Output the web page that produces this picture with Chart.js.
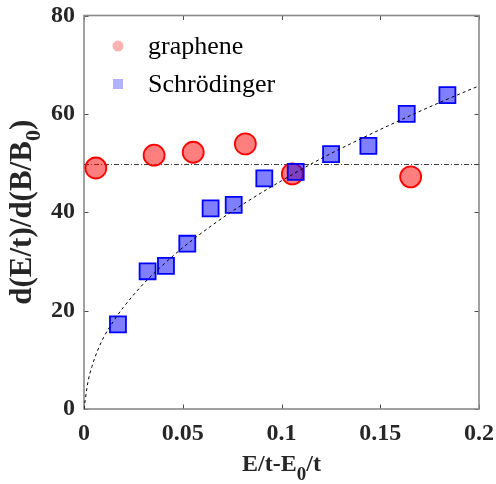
<!DOCTYPE html>
<html>
<head>
<meta charset="utf-8">
<script src="https://cdn.jsdelivr.net/npm/chart.js@4.4.1/dist/chart.umd.min.js"></script>
<style>
  html, body { margin: 0; padding: 0; background: #ffffff; }
  #wrap { width: 496px; height: 484px; }
</style>
</head>
<body>
<div id="wrap"><canvas id="c" width="496" height="484"></canvas></div>
<script>
// Measured slopes versus energy above the band bottom
const grapheneX = [0.0060, 0.0355, 0.0553, 0.0817, 0.1055, 0.1654];
const grapheneY = [49.0, 51.6, 52.2, 53.9, 47.8, 47.2];

const schrodX = [0.0172, 0.0322, 0.0415, 0.0523, 0.0641, 0.0758, 0.0913, 0.1072, 0.1251, 0.1440, 0.1634, 0.1840];
const schrodY = [17.2, 28.0, 29.1, 33.6, 40.8, 41.5, 46.9, 48.2, 51.8, 53.5, 60.0, 63.8];

// Fitted square-root-like trend for the Schrödinger points
const fitX = [0, 0.002, 0.004, 0.007, 0.010, 0.015, 0.020, 0.030, 0.040, 0.050, 0.065, 0.080, 0.100, 0.120, 0.140, 0.160, 0.180, 0.200];
const fitY = [0, 5.5, 8.6, 12.0, 14.6, 17.9, 20.7, 25.4, 29.3, 32.8, 37.4, 41.5, 46.4, 50.9, 54.9, 58.7, 62.3, 65.7];

// Constant level for graphene
const levelX = [0, 0.2];
const levelY = [49.7, 49.7];

const seriesNames = ['graphene', 'Schrödinger'];
const xTicks = [0, 0.05, 0.1, 0.15, 0.2];
const xTickLabels = ['0', '0.05', '0.1', '0.15', '0.2'];
const yTicks = [0, 20, 40, 60, 80];
const yTickLabels = ['0', '20', '40', '60', '80'];

const pts = (xs, ys) => xs.map((x, i) => ({ x: x, y: ys[i] }));

const SERIF = '"Liberation Serif", "Times New Roman", serif';
const TICK_FONT = { family: SERIF, size: 24, weight: 'bold' };

// Draws text made of normal and subscript runs, centred on (cx, baseline)
function drawRuns(ctx, runs, cx, baseline, size, subSize, subDrop) {
  let total = 0;
  const widths = runs.map(r => {
    ctx.font = 'bold ' + (r.sub ? subSize : size) + 'px ' + SERIF;
    const w = ctx.measureText(r.t).width;
    total += w;
    return w;
  });
  let x = cx - total / 2;
  ctx.textAlign = 'left';
  ctx.textBaseline = 'alphabetic';
  runs.forEach((r, i) => {
    ctx.font = 'bold ' + (r.sub ? subSize : size) + 'px ' + SERIF;
    ctx.fillText(r.t, x, baseline + (r.sub ? subDrop : 0));
    x += widths[i];
  });
}

// keep the plot box where the layout padding puts it
function noLabelPadding(s) {
  s.paddingLeft = 0; s.paddingRight = 0; s.paddingTop = 0; s.paddingBottom = 0;
}

const frame = {
  id: 'frame',
  beforeDatasetsDraw(chart) {
    const { ctx, chartArea: a, scales } = chart;
    ctx.save();
    // inward tick marks on all four sides
    ctx.strokeStyle = '#4d4d4d';
    ctx.lineWidth = 1;
    const tl = 4.5;
    xTicks.forEach(v => {
      const px = Math.round(scales.x.getPixelForValue(v)) + 0.5;
      ctx.beginPath();
      ctx.moveTo(px, a.bottom); ctx.lineTo(px, a.bottom - tl);
      ctx.moveTo(px, a.top); ctx.lineTo(px, a.top + tl);
      ctx.stroke();
    });
    yTicks.forEach(v => {
      const py = Math.round(scales.y.getPixelForValue(v)) + 0.5;
      ctx.beginPath();
      ctx.moveTo(a.left, py); ctx.lineTo(a.left + tl, py);
      ctx.moveTo(a.right, py); ctx.lineTo(a.right - tl, py);
      ctx.stroke();
    });
    // box
    ctx.strokeStyle = '#8a8a8a';
    ctx.lineWidth = 1.6;
    ctx.strokeRect(a.left, a.top, a.right - a.left, a.bottom - a.top);
    ctx.restore();
  },
  afterDraw(chart) {
    const { ctx, chartArea: a } = chart;
    ctx.save();
    ctx.fillStyle = '#262626';
    // x-axis title
    drawRuns(ctx, [{ t: 'E/t-E' }, { t: '0', sub: true }, { t: '/t' }],
      (a.left + a.right) / 2, 471, 24, 19, 9);
    // y-axis title, rotated
    ctx.translate(31, (a.top + a.bottom) / 2);
    ctx.rotate(-Math.PI / 2);
    drawRuns(ctx, [{ t: 'd(E/t)/d(B/B' }, { t: '0', sub: true }, { t: ')' }],
      0, 0, 31, 22, 9);
    ctx.restore();

    // legend in the upper-left corner of the plot
    ctx.save();
    const items = [
      { label: seriesNames[0], y: 46, shape: 'circle', color: '#ffb2b2' },
      { label: seriesNames[1], y: 84, shape: 'rect', color: '#b2b2fb' }
    ];
    items.forEach(it => {
      ctx.fillStyle = it.color;
      if (it.shape === 'circle') {
        ctx.beginPath();
        ctx.arc(118, it.y, 5.5, 0, Math.PI * 2);
        ctx.fill();
      } else {
        ctx.fillRect(113, it.y - 5, 10, 10);
      }
      ctx.fillStyle = '#000000';
      ctx.font = '26px ' + SERIF;
      ctx.textAlign = 'left';
      ctx.textBaseline = 'middle';
      ctx.fillText(it.label, 148, it.y + 1);
    });
    ctx.restore();
  }
};

new Chart(document.getElementById('c'), {
  type: 'scatter',
  data: {
    datasets: [
      {
        label: 'level',
        type: 'line',
        data: pts(levelX, levelY),
        borderColor: '#3a3a3a',
        borderWidth: 1,
        borderDash: [5, 2, 1, 2],
        pointRadius: 0,
        fill: false,
        order: 4
      },
      {
        label: seriesNames[0],
        data: pts(grapheneX, grapheneY),
        pointStyle: 'circle',
        pointRadius: 10.5,
        pointBorderWidth: 1.8,
        backgroundColor: 'rgba(255,0,0,0.5)',
        borderColor: '#ff0000',
        order: 3
      },
      {
        label: seriesNames[1],
        data: pts(schrodX, schrodY),
        pointStyle: 'rect',
        pointRadius: 11.3,
        pointBorderWidth: 1.8,
        backgroundColor: 'rgba(0,0,255,0.5)',
        borderColor: '#0000ff',
        order: 2
      },
      {
        label: 'fit',
        type: 'line',
        data: pts(fitX, fitY),
        borderColor: '#000000',
        borderWidth: 1,
        borderDash: [3, 3],
        pointRadius: 0,
        cubicInterpolationMode: 'monotone',
        fill: false,
        order: 1
      }
    ]
  },
  options: {
    responsive: false,
    devicePixelRatio: 1,
    animation: false,
    layout: { padding: { left: 0, right: 17, top: 15.5, bottom: 0 } },
    plugins: { legend: { display: false }, tooltip: { enabled: false } },
    scales: {
      x: {
        type: 'linear',
        min: 0, max: 0.2,
        afterBuildTicks: s => { s.ticks = xTicks.map(v => ({ value: v })); },
        afterFit: s => { s.height = 75; noLabelPadding(s); },
        ticks: {
          autoSkip: false, maxRotation: 0, padding: 10,
          font: TICK_FONT, color: '#262626',
          callback: (v, i) => xTickLabels[i]
        },
        grid: { display: false, drawTicks: false },
        border: { display: false }
      },
      y: {
        type: 'linear',
        min: 0, max: 80,
        afterBuildTicks: s => { s.ticks = yTicks.map(v => ({ value: v })); },
        afterFit: s => { s.width = 84; noLabelPadding(s); },
        ticks: {
          autoSkip: false, padding: 9,
          font: TICK_FONT, color: '#262626',
          callback: (v, i) => yTickLabels[i]
        },
        grid: { display: false, drawTicks: false },
        border: { display: false }
      }
    }
  },
  plugins: [frame]
});
</script>
</body>
</html>
